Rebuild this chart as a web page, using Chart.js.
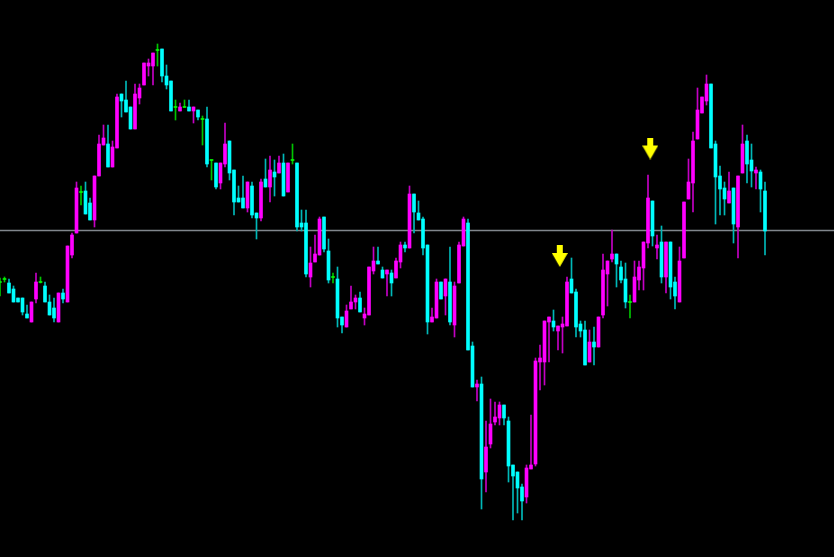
<!DOCTYPE html>
<html>
<head>
<meta charset="utf-8">
<script src="https://cdn.jsdelivr.net/npm/chart.js@4.4.0/dist/chart.umd.min.js"></script>
<style>
  html, body { margin: 0; padding: 0; background: #000; overflow: hidden; }
  #grafico { display: block; }
</style>
</head>
<body>
<canvas id="grafico" width="834" height="557"></canvas>
<script>
// Velas (índice 0..170), precio en puntos
const opens = [275,278,274,268,259,259,243,235,258,275, 271,255,249,235,264,255,302,324,365,366,
  354,337,381,412,413,390,409,463,457,450, 428,459,472,491,491,507,508,481,476,450,
  446,450,450,446,447,438,438,397,394,374, 393,416,387,359,359,349,371,344,339,378,
  370,385,384,394,365,397,394,334,334,280, 295,302,340,306,280,278,240,230,248,255,
  259,239,242,286,296,287,283,284,279,295, 312,309,363,344,338,312,235,239,275,261,
  275,232,274,311,334,211,170,173,85,113, 135,139,152,136,92,85,70,60,88,93,
  195,195,235,236,226,230,231,278,265,233, 227,195,215,210,242,283,298,303,290,278,
  255,255,277,289,314,356,309,315,280,315, 275,255,299,358,374,418,444,456,473,413,
  381,369,354,369,330,384,416,397,384,385, 366];
const highs = [279,280,278,271,259,259,252,255,284,280, 275,262,259,264,268,311,324,375,371,375,
  359,381,422,432,432,416,463,463,476,450, 473,473,494,498,504,513,508,492,476,457,
  454,457,457,450,447,441,450,397,394,394, 434,416,387,371,381,375,375,344,378,398,
  401,397,401,403,394,413,394,347,347,310, 322,340,340,318,284,290,240,252,271,262,
  265,249,290,310,310,290,287,287,299,315, 315,371,363,356,340,312,249,278,275,278,
  310,275,315,340,338,215,177,180,136,158, 155,155,152,140,92,85,73,92,142,199,
  212,236,240,247,231,240,280,299,268,236, 236,227,230,240,303,296,327,303,296,294,
  262,296,296,315,382,356,322,331,315,315, 280,310,355,398,425,469,460,482,473,416,
  391,375,385,369,381,432,422,413,390,387, 375];
const lows = [261,275,264,255,255,242,239,235,254,274, 255,242,235,235,254,255,299,324,352,343,
  337,330,381,412,390,390,409,440,445,428, 428,453,472,481,472,491,475,468,446,437,
  446,450,446,434,437,412,390,377,368,368, 390,377,342,355,349,345,339,318,336,370,
  355,361,384,361,365,393,326,326,280,270, 295,302,305,274,274,230,224,230,248,248,
  245,232,242,283,293,279,261,261,279,289, 305,309,324,337,302,223,235,239,258,242,
  232,220,274,311,207,170,156,48,65,109, 132,132,132,75,37,44,37,54,88,91,
  167,172,195,226,207,204,231,264,220,220, 192,195,192,210,239,251,295,270,274,249,
  239,255,267,267,309,311,298,274,264,258, 248,255,299,358,345,418,444,452,409,333,
  342,342,354,314,299,384,374,370,368,345, 302];
const closes = [275,278,264,255,255,245,239,255,275,275, 255,242,239,264,258,311,322,369,365,343,
  337,381,413,419,390,410,460,456,445,428, 463,469,494,494,504,507,481,472,446,450,
  450,450,446,450,440,438,393,397,370,394, 413,384,355,355,349,375,342,339,375,370,
  387,380,394,361,394,397,330,330,283,294, 303,338,308,277,280,239,232,246,255,259,
  245,243,290,296,293,279,287,274,296,312, 309,363,345,337,309,235,240,275,258,278,
  235,271,312,338,207,170,173,78,110,133, 140,152,139,91,81,69,56,89,92,196,
  199,236,240,230,231,233,275,264,230,226, 192,215,210,240,287,296,303,293,277,255,
  255,280,290,315,359,321,312,280,315,270, 261,296,355,375,416,447,460,473,409,380,
  368,358,366,333,381,413,393,386,387,368, 326];

// Línea horizontal y flechas
const nivel = 326.5;
const flechasX = [124.4, 144.5];
const flechasY = [301, 408.5];

const total = opens.length;
const pasoPx = 4.5; // separación entre velas en pantalla
const xMax = 834 / pasoPx;

function colorCuerpo(o, c) {
    return c > o ? '#ff00ff' : c < o ? '#00ffff' : '#00ff00';
}
function colorMecha(o, c) {
    return c > o ? '#c400c4' : c < o ? '#00b8b8' : '#00c400';
}

const mechas = [], cuerpos = [], coloresMecha = [], coloresCuerpo = [];
for (let i = 0; i < total; i++) {
    const o = opens[i], c = closes[i];
    mechas.push({ x: i, y: [lows[i], highs[i]] });
    cuerpos.push({ x: i, y: o === c ? [o - 0.5, o + 0.5] : [o, c] });
    coloresMecha.push(colorMecha(o, c));
    coloresCuerpo.push(colorCuerpo(o, c));
}

// Flecha amarilla hacia abajo
const flecha = document.createElement('canvas');
flecha.width = 16;
flecha.height = 22;
const fctx = flecha.getContext('2d');
fctx.fillStyle = '#ffff00';
fctx.fillRect(5, 0, 6, 10);
fctx.beginPath();
fctx.moveTo(0, 8);
fctx.lineTo(16, 8);
fctx.lineTo(8, 22);
fctx.closePath();
fctx.fill();

new Chart(document.getElementById('grafico'), {
    type: 'bar',
    data: {
        datasets: [
            {
                type: 'line',
                data: [{ x: 0, y: nivel }, { x: xMax, y: nivel }],
                borderColor: '#80868c',
                borderWidth: 1.5,
                pointRadius: 0,
                order: 3
            },
            {
                data: mechas,
                backgroundColor: coloresMecha,
                barThickness: 1,
                grouped: false,
                order: 2
            },
            {
                data: cuerpos,
                backgroundColor: coloresCuerpo,
                barThickness: 3,
                grouped: false,
                order: 1
            },
            {
                type: 'line',
                data: flechasX.map((x, i) => ({ x: x, y: flechasY[i] })),
                showLine: false,
                pointStyle: flecha,
                pointRadius: 1,
                pointHoverRadius: 1,
                pointBorderWidth: 0,
                borderWidth: 0,
                order: 0
            }
        ]
    },
    options: {
        responsive: false,
        animation: false,
        layout: { padding: 0, autoPadding: false },
        plugins: {
            legend: { display: false },
            tooltip: { enabled: false }
        },
        scales: {
            x: { type: 'linear', min: 0, max: xMax, offset: false, display: false },
            y: { min: 0, max: 557, display: false }
        }
    }
});
</script>
</body>
</html>
